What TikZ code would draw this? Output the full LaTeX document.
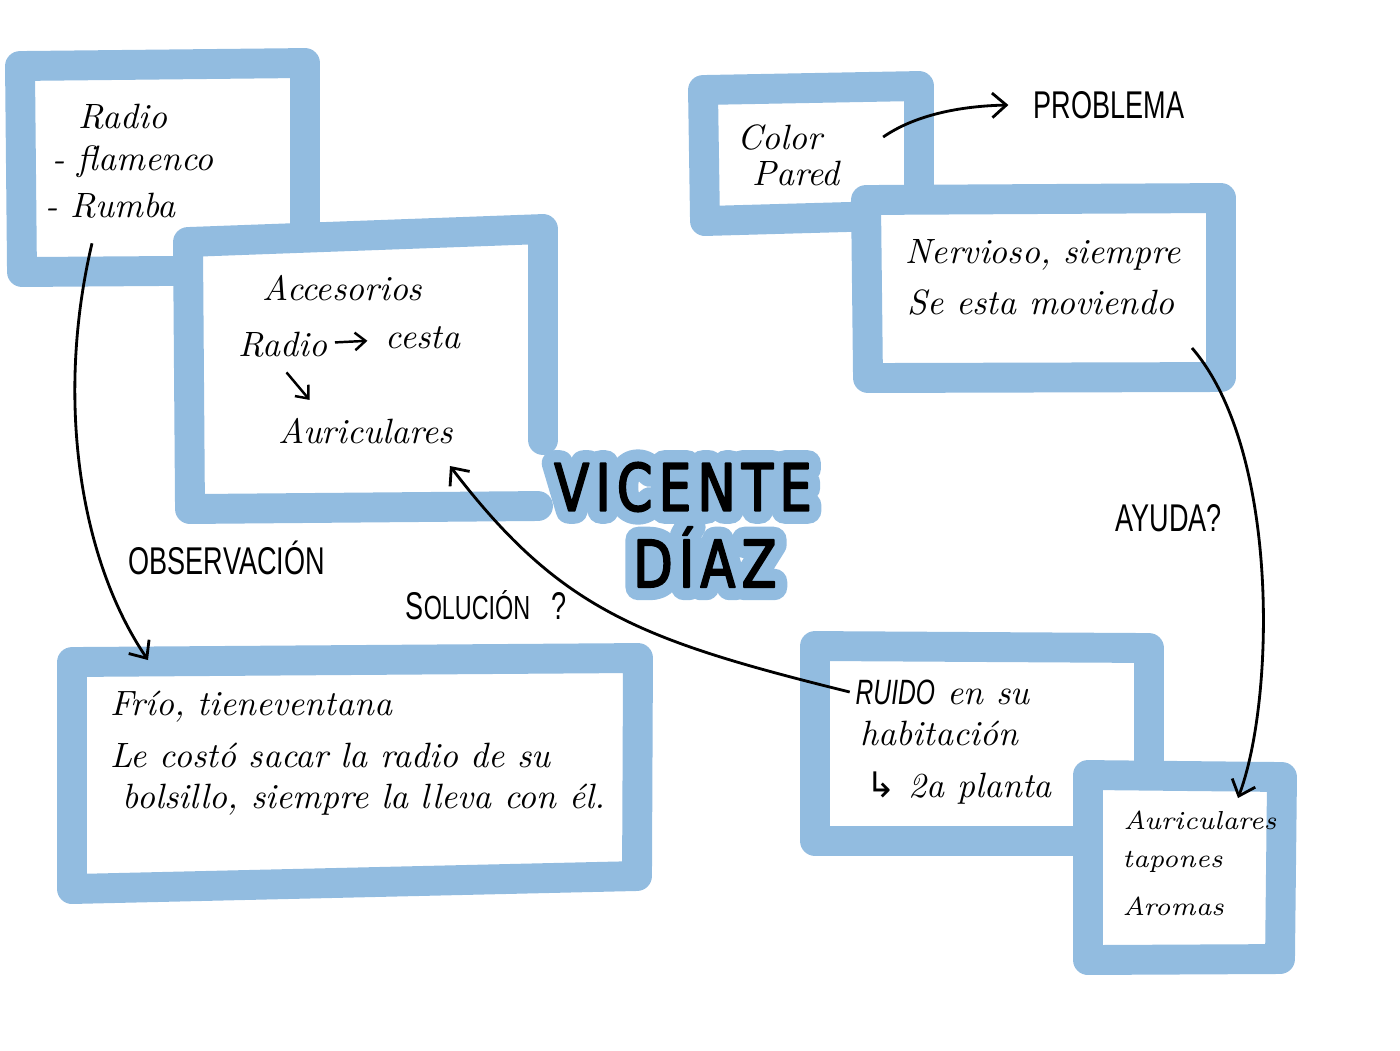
\documentclass[tikz,border=0pt]{standalone}
\usepackage{fontspec}
\usetikzlibrary{arrows.meta}

\newfontfamily\capfont[FakeStretch=0.7]{Liberation Sans}
\newfontfamily\titlefont[FakeStretch=0.78, LetterSpace=10, FakeBold=3]{DejaVu Sans}
\newfontfamily\halofont[FakeStretch=0.78, LetterSpace=10, FakeBold=40]{DejaVu Sans}
\newfontfamily\symfont{DejaVu Sans}
\definecolor{boardblue}{RGB}{146,188,224}

\tikzset{
  frame/.style={draw=boardblue, fill=white, line width=8.5pt, line cap=round, line join=round},
  hand/.style={anchor=west, inner sep=0pt, font=\fontsize{10}{12}\selectfont\itshape},
  smallhand/.style={hand, font=\fontsize{7.4}{9}\selectfont\itshape},
  caps/.style={anchor=west, inner sep=0pt, font=\fontsize{11}{13}\selectfont\capfont},
  title/.style={inner sep=0pt, line join=round, font=\fontsize{18.5}{22}\selectfont\titlefont},
  halo/.style={inner sep=0pt, line join=round, text=boardblue, font=\fontsize{18.5}{22}\selectfont\halofont},
  link/.style={line width=0.8pt, -{Straight Barb[length=4pt,width=7pt]}},
  smalllink/.style={line width=0.7pt, -{Straight Barb[length=3pt,width=5pt]}},
}

\begin{document}
\begin{tikzpicture}[x=0.01cm, y=-0.01cm]
        \useasboundingbox (0,0) rectangle (1400,1050);

        % Draw the boxes (later ones cover earlier ones)
        \path[frame] (20,66) -- (305,63) -- (305,270) -- (22,272) -- cycle;
        \draw[frame] (543,440) -- (543,229) -- (188,242) -- (190,509) -- (538,506);
        \path[frame] (703,90) -- (919,86) -- (919,215) -- (705,221) -- cycle;
        \path[frame] (866,200) -- (1221,198) -- (1221,377) -- (868,378) -- cycle;
        \path[frame] (72,662) -- (638,658) -- (637,876) -- (72,889) -- cycle;
        \path[frame] (815,646) -- (1149,648) -- (1149,841) -- (815,841) -- cycle;
        \path[frame] (1088,775) -- (1282,777) -- (1280,959) -- (1088,960) -- cycle;

        % Radio box
        \node[hand] (radio) at (78,117) {Radio};
        \node[hand] (flamenco) at (52,162) {- flamenco};
        \node[hand] (rumba) at (45,206) {- Rumba};

        % Accessories box
        \node[hand] (acces) at (262,288) {Accesorios};
        \node[hand] (radioin) at (238,345) {Radio};
        \node[hand] (cesta) at (385,338) {cesta};
        \node[hand] (auric) at (278,431) {Auriculares};
        \draw[smalllink, shorten <=2pt, shorten >=5pt] (radioin) -- (cesta);
        \draw[smalllink] ([xshift=1pt,yshift=-4pt]radioin.south) -- ([xshift=9pt,yshift=5pt]auric.north west);

        % Wall colour and nervous boxes
        \node[hand] (color) at (737,137) {Color};
        \node[hand] (pared) at (752,173) {Pared};
        \node[caps] (problema) at (1033,105) {PROBLEMA};
        \node[hand] (nervioso) at (905,255) {Nervioso, siempre};
        \node[hand] (moviendo) at (907,302) {Se esta moviendo};

        % Cold box
        \node[hand] (frio) at (110,707) {Frío, tieneventana};
        \node[hand] (costo) at (110,755) {Le costó sacar la radio de su};
        \node[hand] (bolsillo) at (122,800) {bolsillo, siempre la lleva con él.};

        % Noise box
        \node[hand] (ruido) at (855,692) {{\capfont RUIDO} en su};
        \node[hand] (habitacion) at (860,733) {habitación};
        \node[hand] (planta) at (866,788) {{\symfont\upshape ↳} 2a planta};

        % Help box
        \node[smallhand] (auric2) at (1123,820) {Auriculares};
        \node[smallhand] (tapones) at (1122,862) {tapones};
        \node[smallhand] (aromas) at (1122,906) {Aromas};

        % Labels on the arrows
        \node[caps] (obs) at (128,558) {OBSERVACIÓN};
        \node[caps] (sol) at (405,605) {S{\fontsize{9.5}{11}\selectfont OLUCIÓN}\hspace{6pt}?};
        \node[caps] (ayuda) at (1115,518) {AYUDA?};

        % Arrows
        \coordinate (obsend) at (148,660);
        \coordinate (helpstart) at (1192,348);
        \coordinate (helpend) at (1238,798);
        \coordinate (solend) at (450,466);
        \draw[link] ([shift={(47,24)}]rumba.south west) .. controls (55,400) and (80,560) .. (obsend);
        \draw[link] ([xshift=17pt]color.east) .. controls (915,115) and (960,106) .. ([xshift=-7pt]problema.west);
        \draw[link] (helpstart) .. controls (1280,450) and (1275,700) .. (helpend);
        \draw[link] ([xshift=-1.5pt]ruido.west) .. controls (640,640) and (560,610) .. (solend);

        % Title with blue halo
        \begin{scope}[line join=round]
                \node[halo] (vhalo) at (683,487) {VICENTE};
                \node[halo] (dhalo) at (705,557) {DÍAZ};
                \node[title] (vicente) at (vhalo) {VICENTE};
                \node[title] (diaz) at (dhalo) {DÍAZ};
        \end{scope}
\end{tikzpicture}
\end{document}
